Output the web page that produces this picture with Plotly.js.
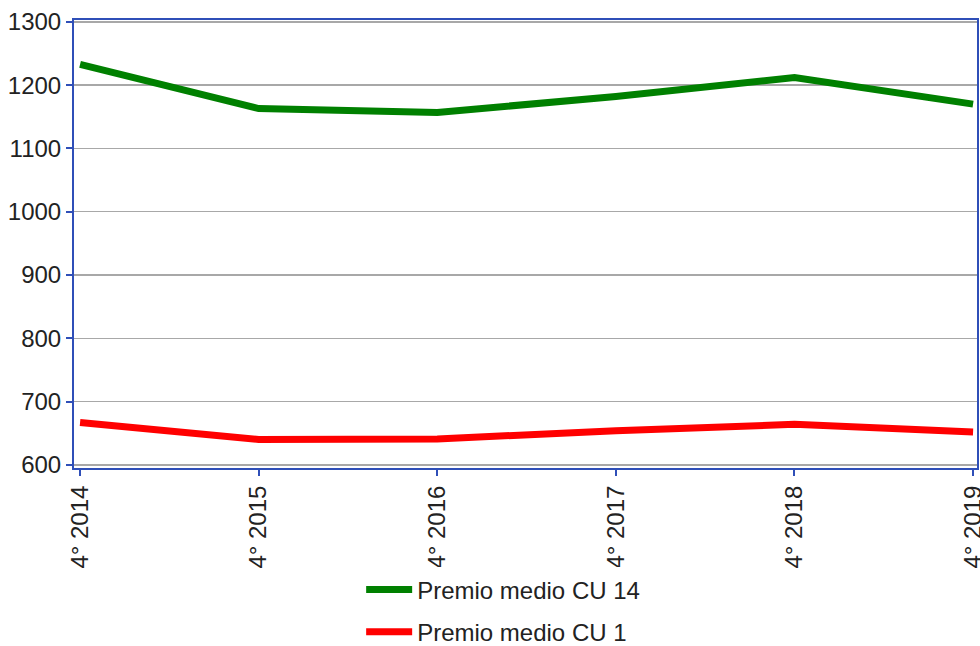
<!DOCTYPE html>
<html>
<head>
<meta charset="utf-8">
<script src="https://cdn.plot.ly/plotly-3.0.1.min.js"></script>
<style>html,body{margin:0;padding:0;background:#fff;}#chart{width:980px;height:646px;}</style>
</head>
<body>
<div id="chart"></div>
<script>
const categories = ["4° 2014", "4° 2015", "4° 2016", "4° 2017", "4° 2018", "4° 2019"];
const cu14 = [1233, 1163, 1157, 1182, 1212, 1170];
const cu1 = [667, 640, 641, 654, 664, 652];
const seriesNames = ["Premio medio CU 14", "Premio medio CU 1"];

const axisBlue = "#2f4fb8";
const fontFam = "Liberation Sans, Arial, sans-serif";

const traces = [
  {x: categories, y: cu14, name: seriesNames[0], type: "scatter", mode: "lines",
   line: {color: "#008000", width: 7}, legendgroup: "a"},
  {x: categories, y: cu1, name: seriesNames[1], type: "scatter", mode: "lines",
   line: {color: "#ff0000", width: 7}, legendgroup: "b"}
];

const layout = {
  width: 980, height: 646,
  margin: {l: 74, r: 3, t: 20, b: 178, autoexpand: false},
  paper_bgcolor: "#fff", plot_bgcolor: "#fff",
  font: {family: fontFam, size: 24, color: "#222"},
  showlegend: true,
  legend: {x: 0.318, xanchor: "left", y: -0.222, yanchor: "top",
           orientation: "v", tracegroupgap: 8, itemwidth: 46,
           font: {size: 24, color: "#222"}},
  xaxis: {
    type: "category", range: [-0.034, 5.022], tickangle: -90,
    showline: true, linecolor: axisBlue, linewidth: 2, mirror: true,
    ticks: "outside", ticklen: 6, tickcolor: axisBlue, tickwidth: 2,
    showgrid: false, zeroline: false, automargin: false,
    tickfont: {size: 24, color: "#222"}
  },
  yaxis: {
    range: [595, 1303], dtick: 100, tick0: 0,
    showline: true, linecolor: axisBlue, linewidth: 2, mirror: true,
    ticks: "outside", ticklen: 6, tickcolor: axisBlue, tickwidth: 2,
    showgrid: true, gridcolor: "#a8a8a8", gridwidth: 1.5, zeroline: false,
    automargin: false,
    tickfont: {size: 24, color: "#222"}
  }
};

Plotly.newPlot("chart", traces, layout, {displayModeBar: false, staticPlot: true});
</script>
</body>
</html>
